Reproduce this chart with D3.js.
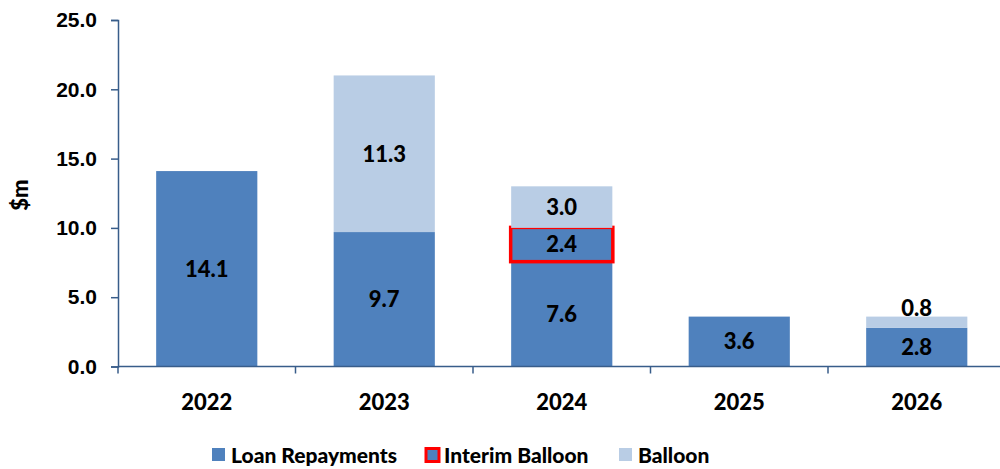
<!DOCTYPE html>
<html>
<head>
<meta charset="utf-8">
<script src="https://cdn.jsdelivr.net/npm/d3@7"></script>
<style>
  body { margin: 0; background: #fff; }
  svg { display: block; font-family: Lato, "Open Sans", sans-serif; font-weight: 900; }
</style>
</head>
<body>
<svg id="chart" width="1000" height="469"></svg>
<script>
// data
var years = ["2022", "2023", "2024", "2025", "2026"];
var loanRepayments = [14.1, 9.7, 7.6, 3.6, 2.8];
var interimBalloon = [0, 0, 2.4, 0, 0];
var balloon = [0, 11.3, 3.0, 0, 0.8];
var yTicks = [0, 5, 10, 15, 20, 25];
var seriesNames = ["Loan Repayments", "Interim Balloon", "Balloon"];

var colors = {
  dark: "#4F81BD",
  light: "#B9CDE5",
  axis: "#385D8A"
};

var svg = d3.select("#chart");
var plotLeft = 118, plotRight = 1005.5, plotTop = 20, plotBottom = 366.5;

var x = d3.scaleBand().domain(years).range([plotLeft, plotRight]).paddingInner(0.43).paddingOuter(0.215);
var y = d3.scaleLinear().domain([0, 25]).range([plotBottom, plotTop]);

var rows = years.map(function(yr, i){
  return { year: yr, loan: loanRepayments[i], interim: interimBalloon[i], balloon: balloon[i] };
});
var stack = d3.stack().keys(["loan", "interim", "balloon"])(rows);

var fills = { loan: colors.dark, interim: colors.dark, balloon: colors.light };

stack.forEach(function(layer){
  layer.forEach(function(d){
    var v = d[1] - d[0];
    if (v <= 0) return;
    var g = svg.append("g");
    g.append("rect")
      .attr("x", x(d.data.year))
      .attr("y", y(d[1]))
      .attr("width", x.bandwidth())
      .attr("height", y(d[0]) - y(d[1]))
      .attr("fill", fills[layer.key]);
    if (layer.key === "interim") {
      g.append("rect")
        .attr("x", x(d.data.year) - 0.5)
        .attr("y", y(d[1]) - 0.5)
        .attr("width", x.bandwidth() + 1)
        .attr("height", y(d[0]) - y(d[1]) + 1)
        .attr("fill", "none")
        .attr("stroke", "#FF0000")
        .attr("stroke-width", 3.5);
    }
    // small segments get their label above the bar
    var small = (y(d[0]) - y(d[1])) < 20;
    var ly = small ? y(d[1]) - 9 : (y(d[0]) + y(d[1])) / 2;
    svg.append("text")
      .attr("x", x(d.data.year) + x.bandwidth() / 2)
      .attr("y", ly)
      .attr("dy", "0.36em")
      .attr("text-anchor", "middle")
      .attr("font-size", 22)
      .attr("fill", "#000")
      .text(v.toFixed(1));
  });
});

// y axis
var yAxis = svg.append("g")
  .attr("transform", "translate(" + plotLeft + ",0)")
  .call(d3.axisLeft(y).tickValues(yTicks).tickFormat(d3.format(".1f")).tickSizeOuter(0).tickSize(7).tickPadding(14));
yAxis.select(".domain").attr("stroke", colors.axis).attr("stroke-width", 1.5);
yAxis.selectAll(".tick line").attr("stroke", colors.axis).attr("stroke-width", 1.5);
yAxis.selectAll("text").attr("font-size", 21).attr("fill", "#000").attr("font-family", null);

// x axis
svg.append("line")
  .attr("x1", plotLeft).attr("x2", 1000)
  .attr("y1", plotBottom).attr("y2", plotBottom)
  .attr("stroke", colors.axis).attr("stroke-width", 1.5);
var bounds = years.map(function(yr){ return x(yr) - x.step() * x.paddingInner() / 2; });
bounds.push(plotRight);
svg.selectAll(".xtick").data(bounds).enter().append("line")
  .attr("x1", function(d){ return d; }).attr("x2", function(d){ return d; })
  .attr("y1", plotBottom).attr("y2", plotBottom + 7)
  .attr("stroke", colors.axis).attr("stroke-width", 1.5);
svg.selectAll(".xlabel").data(years).enter().append("text")
  .attr("x", function(d){ return x(d) + x.bandwidth() / 2; })
  .attr("y", 402)
  .attr("dy", "0.36em")
  .attr("text-anchor", "middle")
  .attr("font-size", 22)
  .text(function(d){ return d; });

// y title
svg.append("text")
  .attr("transform", "translate(28,195) rotate(-90)")
  .attr("text-anchor", "middle")
  .attr("font-size", 22)
  .text("$m");

// legend
var legendX = [212, 425, 619];
seriesNames.forEach(function(name, i){
  var g = svg.append("g").attr("transform", "translate(" + legendX[i] + ",448)");
  var sq = g.append("rect").attr("width", 13).attr("height", 13)
    .attr("fill", i === 2 ? colors.light : colors.dark);
  if (i === 1) sq.attr("stroke", "#FF0000").attr("stroke-width", 3).attr("x", 1).attr("y", 0.5);
  g.append("text").attr("x", 19).attr("y", 7).attr("dy", "0.38em")
    .attr("font-size", 21).text(name);
});
</script>
</body>
</html>
